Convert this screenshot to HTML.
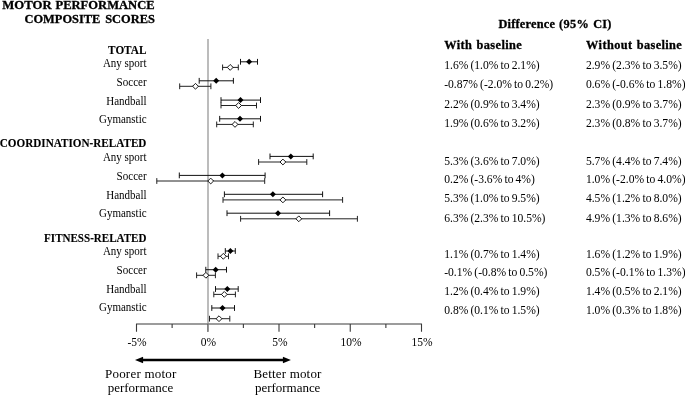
<!DOCTYPE html>
<html><head><meta charset="utf-8"><title>Motor performance composite scores</title>
<style>
html,body{margin:0;padding:0;background:#fff;}
body{width:685px;height:395px;overflow:hidden;font-family:"Liberation Serif",serif;}
svg{display:block;will-change:transform;}
svg text{font-family:"Liberation Serif",serif;fill:#000;}
</style></head><body>
<svg width="685" height="395" viewBox="0 0 685 395">
<rect width="685" height="395" fill="#fff"/>
<g id="axis">
<path d="M208 39V323.6" stroke="#a6a6a6" stroke-width="1.5" fill="none"/>
<path d="M136 324H422M136.50 324V331.7M172.12 324V327.9M207.75 324V331.7M243.38 324V327.9M279.00 324V331.7M314.62 324V327.9M350.25 324V331.7M385.88 324V327.9M421.50 324V331.7" stroke="#3a3a3a" stroke-width="1.1" fill="none"/>
<path d="M208 324.6V331.7" stroke="#8c8c8c" stroke-width="1.6" fill="none"/>
<path d="M142 360H284" stroke="#000" stroke-width="2.35" fill="none"/>
<path d="M135.0 360L143.1 356.7V363.3Z M290.9 360L282.9 356.7V363.3Z" fill="#000"/>
</g>
<g id="bars">
<path d="M240.5 61.8H257.5M240.5 58.9V64.7M257.5 58.9V64.7" stroke="#111" stroke-width="1" fill="none"/><path d="M246.1 61.8L249.1 58.8L252.1 61.8L249.1 64.8Z" fill="#000" stroke="#000" stroke-width="0"/>
<path d="M199.2 80.8H233.4M199.2 77.9V83.7M233.4 77.9V83.7" stroke="#111" stroke-width="1" fill="none"/><path d="M213.2 80.8L216.2 77.8L219.2 80.8L216.2 83.8Z" fill="#000" stroke="#000" stroke-width="0"/>
<path d="M221.0 100.1H260.5M221.0 97.2V103.0M260.5 97.2V103.0" stroke="#111" stroke-width="1" fill="none"/><path d="M237.5 100.1L240.5 97.1L243.5 100.1L240.5 103.1Z" fill="#000" stroke="#000" stroke-width="0"/>
<path d="M219.7 118.8H260.5M219.7 115.9V121.7M260.5 115.9V121.7" stroke="#111" stroke-width="1" fill="none"/><path d="M237.0 118.8L240.0 115.8L243.0 118.8L240.0 121.8Z" fill="#000" stroke="#000" stroke-width="0"/>
<path d="M270.0 156.4H313.2M270.0 153.5V159.3M313.2 153.5V159.3" stroke="#111" stroke-width="1" fill="none"/><path d="M287.8 156.4L290.8 153.4L293.8 156.4L290.8 159.4Z" fill="#000" stroke="#000" stroke-width="0"/>
<path d="M179.3 175.4H265.1M179.3 172.5V178.3M265.1 172.5V178.3" stroke="#111" stroke-width="1" fill="none"/><path d="M219.4 175.4L222.4 172.4L225.4 175.4L222.4 178.4Z" fill="#000" stroke="#000" stroke-width="0"/>
<path d="M224.4 194.3H322.6M224.4 191.4V197.2M322.6 191.4V197.2" stroke="#111" stroke-width="1" fill="none"/><path d="M269.9 194.3L272.9 191.3L275.9 194.3L272.9 197.3Z" fill="#000" stroke="#000" stroke-width="0"/>
<path d="M227.0 213.2H329.6M227.0 210.3V216.1M329.6 210.3V216.1" stroke="#111" stroke-width="1" fill="none"/><path d="M275.0 213.2L278.0 210.2L281.0 213.2L278.0 216.2Z" fill="#000" stroke="#000" stroke-width="0"/>
<path d="M225.3 251.0H235.3M225.3 248.1V253.9M235.3 248.1V253.9" stroke="#111" stroke-width="1" fill="none"/><path d="M227.4 251.0L230.4 248.0L233.4 251.0L230.4 254.0Z" fill="#000" stroke="#000" stroke-width="0"/>
<path d="M205.8 269.7H226.5M205.8 266.8V272.6M226.5 266.8V272.6" stroke="#111" stroke-width="1" fill="none"/><path d="M212.7 269.7L215.7 266.7L218.7 269.7L215.7 272.7Z" fill="#000" stroke="#000" stroke-width="0"/>
<path d="M215.5 289.0H238.2M215.5 286.1V291.9M238.2 286.1V291.9" stroke="#111" stroke-width="1" fill="none"/><path d="M224.3 289.0L227.3 286.0L230.3 289.0L227.3 292.0Z" fill="#000" stroke="#000" stroke-width="0"/>
<path d="M211.8 308.0H234.5M211.8 305.1V310.9M234.5 305.1V310.9" stroke="#111" stroke-width="1" fill="none"/><path d="M219.5 308.0L222.5 305.0L225.5 308.0L222.5 311.0Z" fill="#000" stroke="#000" stroke-width="0"/>
<path d="M222.6 67.4H238.3M222.6 64.5V70.3M238.3 64.5V70.3" stroke="#222" stroke-width="1" fill="none"/><path d="M227.3 67.4L230.2 64.5L233.1 67.4L230.2 70.3Z" fill="#fff" stroke="#000" stroke-width="0.9"/>
<path d="M179.7 86.3H210.9M179.7 83.4V89.2M210.9 83.4V89.2" stroke="#222" stroke-width="1" fill="none"/><path d="M192.6 86.3L195.5 83.4L198.4 86.3L195.5 89.2Z" fill="#fff" stroke="#000" stroke-width="0.9"/>
<path d="M221.0 105.5H256.5M221.0 102.6V108.4M256.5 102.6V108.4" stroke="#222" stroke-width="1" fill="none"/><path d="M235.7 105.5L238.6 102.6L241.5 105.5L238.6 108.4Z" fill="#fff" stroke="#000" stroke-width="0.9"/>
<path d="M216.7 124.4H253.3M216.7 121.5V127.3M253.3 121.5V127.3" stroke="#222" stroke-width="1" fill="none"/><path d="M232.1 124.4L235.0 121.5L237.9 124.4L235.0 127.3Z" fill="#fff" stroke="#000" stroke-width="0.9"/>
<path d="M258.6 162.0H306.8M258.6 159.1V164.9M306.8 159.1V164.9" stroke="#222" stroke-width="1" fill="none"/><path d="M280.0 162.0L282.9 159.1L285.8 162.0L282.9 164.9Z" fill="#fff" stroke="#000" stroke-width="0.9"/>
<path d="M156.8 181.0H264.7M156.8 178.1V183.9M264.7 178.1V183.9" stroke="#222" stroke-width="1" fill="none"/><path d="M207.8 181.0L210.7 178.1L213.6 181.0L210.7 183.9Z" fill="#fff" stroke="#000" stroke-width="0.9"/>
<path d="M223.0 199.9H342.6M223.0 197.0V202.8M342.6 197.0V202.8" stroke="#222" stroke-width="1" fill="none"/><path d="M280.0 199.9L282.9 197.0L285.8 199.9L282.9 202.8Z" fill="#fff" stroke="#000" stroke-width="0.9"/>
<path d="M240.6 218.8H357.4M240.6 215.9V221.7M357.4 215.9V221.7" stroke="#222" stroke-width="1" fill="none"/><path d="M295.9 218.8L298.8 215.9L301.7 218.8L298.8 221.7Z" fill="#fff" stroke="#000" stroke-width="0.9"/>
<path d="M218.0 256.3H228.5M218.0 253.4V259.2M228.5 253.4V259.2" stroke="#222" stroke-width="1" fill="none"/><path d="M220.4 256.3L223.3 253.4L226.2 256.3L223.3 259.2Z" fill="#fff" stroke="#000" stroke-width="0.9"/>
<path d="M196.6 275.3H215.4M196.6 272.4V278.2M215.4 272.4V278.2" stroke="#222" stroke-width="1" fill="none"/><path d="M203.0 275.3L205.9 272.4L208.8 275.3L205.9 278.2Z" fill="#fff" stroke="#000" stroke-width="0.9"/>
<path d="M213.8 294.4H235.4M213.8 291.5V297.3M235.4 291.5V297.3" stroke="#222" stroke-width="1" fill="none"/><path d="M221.4 294.4L224.3 291.5L227.2 294.4L224.3 297.3Z" fill="#fff" stroke="#000" stroke-width="0.9"/>
<path d="M209.5 318.7H229.8M209.5 315.8V321.6M229.8 315.8V321.6" stroke="#222" stroke-width="1" fill="none"/><path d="M216.1 318.7L219.0 315.8L221.9 318.7L219.0 321.6Z" fill="#fff" stroke="#000" stroke-width="0.9"/>
</g>
<g id="text">
<text x="2.3" y="8.5" text-anchor="start" font-weight="bold" stroke="#000" stroke-width="0.3" font-size="12.3" lengthAdjust="spacingAndGlyphs" textLength="49.4">MOTOR</text>
<text x="55.5" y="8.5" text-anchor="start" font-weight="bold" stroke="#000" stroke-width="0.3" font-size="12.3" lengthAdjust="spacingAndGlyphs" textLength="99.1">PERFORMANCE</text>
<text x="24.5" y="23.2" text-anchor="start" font-weight="bold" stroke="#000" stroke-width="0.3" font-size="12.3" lengthAdjust="spacingAndGlyphs" textLength="75.9">COMPOSITE</text>
<text x="105.2" y="23.2" text-anchor="start" font-weight="bold" stroke="#000" stroke-width="0.3" font-size="12.3" lengthAdjust="spacingAndGlyphs" textLength="49.7">SCORES</text>
<text x="498.4" y="27.9" text-anchor="start" font-weight="bold" stroke="#000" stroke-width="0.3" font-size="12.3" textLength="56.6">Difference</text>
<text x="559.0" y="27.9" text-anchor="start" font-weight="bold" stroke="#000" stroke-width="0.3" font-size="12.3" textLength="29.9">(95%</text>
<text x="593.2" y="27.9" text-anchor="start" font-weight="bold" stroke="#000" stroke-width="0.3" font-size="12.3" textLength="18.2">CI)</text>
<text x="444.2" y="49.1" text-anchor="start" font-weight="bold" stroke="#000" stroke-width="0.3" font-size="12.3" textLength="27.7">With</text>
<text x="476.5" y="49.1" text-anchor="start" font-weight="bold" stroke="#000" stroke-width="0.3" font-size="12.3" textLength="45.3">baseline</text>
<text x="586.0" y="49.1" text-anchor="start" font-weight="bold" stroke="#000" stroke-width="0.3" font-size="12.3" textLength="46.2">Without</text>
<text x="636.7" y="49.1" text-anchor="start" font-weight="bold" stroke="#000" stroke-width="0.3" font-size="12.3" textLength="45.1">baseline</text>
<text x="108.1" y="53.8" text-anchor="start" font-weight="bold" stroke="#000" stroke-width="0.12" font-size="11.7" lengthAdjust="spacingAndGlyphs" textLength="38.3">TOTAL</text>
<text x="102.9" y="66.6" text-anchor="start" font-size="11.6" lengthAdjust="spacingAndGlyphs" textLength="43.7">Any sport</text>
<text x="116.6" y="85.6" text-anchor="start" font-size="11.6" lengthAdjust="spacingAndGlyphs" textLength="30.0">Soccer</text>
<text x="106.3" y="104.5" text-anchor="start" font-size="11.6" lengthAdjust="spacingAndGlyphs" textLength="40.3">Handball</text>
<text x="99.0" y="123.2" text-anchor="start" font-size="11.6" lengthAdjust="spacingAndGlyphs" textLength="47.6">Gymanstic</text>
<text x="-0.2" y="147.4" text-anchor="start" font-weight="bold" stroke="#000" stroke-width="0.12" font-size="11.7" lengthAdjust="spacingAndGlyphs" textLength="146.6">COORDINATION-RELATED</text>
<text x="102.9" y="160.6" text-anchor="start" font-size="11.6" lengthAdjust="spacingAndGlyphs" textLength="43.7">Any sport</text>
<text x="116.6" y="179.6" text-anchor="start" font-size="11.6" lengthAdjust="spacingAndGlyphs" textLength="30.0">Soccer</text>
<text x="106.3" y="198.5" text-anchor="start" font-size="11.6" lengthAdjust="spacingAndGlyphs" textLength="40.3">Handball</text>
<text x="99.0" y="217.2" text-anchor="start" font-size="11.6" lengthAdjust="spacingAndGlyphs" textLength="47.6">Gymanstic</text>
<text x="44.1" y="241.5" text-anchor="start" font-weight="bold" stroke="#000" stroke-width="0.12" font-size="11.7" lengthAdjust="spacingAndGlyphs" textLength="102.3">FITNESS-RELATED</text>
<text x="102.9" y="254.6" text-anchor="start" font-size="11.6" lengthAdjust="spacingAndGlyphs" textLength="43.7">Any sport</text>
<text x="116.6" y="273.7" text-anchor="start" font-size="11.6" lengthAdjust="spacingAndGlyphs" textLength="30.0">Soccer</text>
<text x="106.3" y="292.5" text-anchor="start" font-size="11.6" lengthAdjust="spacingAndGlyphs" textLength="40.3">Handball</text>
<text x="99.0" y="311.2" text-anchor="start" font-size="11.6" lengthAdjust="spacingAndGlyphs" textLength="47.6">Gymanstic</text>
<text x="444.2" y="68.6" text-anchor="start" font-size="11.6" word-spacing="-0.8">1.6% (1.0% to 2.1%)</text>
<text x="444.2" y="88.2" text-anchor="start" font-size="11.6" word-spacing="-0.8">-0.87% (-2.0% to 0.2%)</text>
<text x="444.2" y="108.3" text-anchor="start" font-size="11.6" word-spacing="-0.8">2.2% (0.9% to 3.4%)</text>
<text x="444.2" y="127.4" text-anchor="start" font-size="11.6" word-spacing="-0.8">1.9% (0.6% to 3.2%)</text>
<text x="444.2" y="165.2" text-anchor="start" font-size="11.6" word-spacing="-0.8">5.3% (3.6% to 7.0%)</text>
<text x="444.2" y="182.8" text-anchor="start" font-size="11.6" word-spacing="-0.8">0.2% (-3.6% to 4%)</text>
<text x="444.2" y="201.5" text-anchor="start" font-size="11.6" word-spacing="-0.8">5.3% (1.0% to 9.5%)</text>
<text x="444.2" y="222.2" text-anchor="start" font-size="11.6" word-spacing="-0.8">6.3% (2.3% to 10.5%)</text>
<text x="444.2" y="258.0" text-anchor="start" font-size="11.6" word-spacing="-0.8">1.1% (0.7% to 1.4%)</text>
<text x="444.2" y="275.9" text-anchor="start" font-size="11.6" word-spacing="-0.8">-0.1% (-0.8% to 0.5%)</text>
<text x="444.2" y="294.7" text-anchor="start" font-size="11.6" word-spacing="-0.8">1.2% (0.4% to 1.9%)</text>
<text x="444.2" y="314.2" text-anchor="start" font-size="11.6" word-spacing="-0.8">0.8% (0.1% to 1.5%)</text>
<text x="585.9" y="68.6" text-anchor="start" font-size="11.6" word-spacing="-0.7">2.9% (2.3% to 3.5%)</text>
<text x="585.9" y="88.2" text-anchor="start" font-size="11.6" word-spacing="-0.7">0.6% (-0.6% to 1.8%)</text>
<text x="585.9" y="108.3" text-anchor="start" font-size="11.6" word-spacing="-0.7">2.3% (0.9% to 3.7%)</text>
<text x="585.9" y="127.4" text-anchor="start" font-size="11.6" word-spacing="-0.7">2.3% (0.8% to 3.7%)</text>
<text x="585.9" y="165.2" text-anchor="start" font-size="11.6" word-spacing="-0.7">5.7% (4.4% to 7.4%)</text>
<text x="585.9" y="182.8" text-anchor="start" font-size="11.6" word-spacing="-0.7">1.0% (-2.0% to 4.0%)</text>
<text x="585.9" y="201.5" text-anchor="start" font-size="11.6" word-spacing="-0.7">4.5% (1.2% to 8.0%)</text>
<text x="585.9" y="222.2" text-anchor="start" font-size="11.6" word-spacing="-0.7">4.9% (1.3% to 8.6%)</text>
<text x="585.9" y="258.0" text-anchor="start" font-size="11.6" word-spacing="-0.7">1.6% (1.2% to 1.9%)</text>
<text x="585.9" y="275.9" text-anchor="start" font-size="11.6" word-spacing="-0.7">0.5% (-0.1% to 1.3%)</text>
<text x="585.9" y="294.7" text-anchor="start" font-size="11.6" word-spacing="-0.7">1.4% (0.5% to 2.1%)</text>
<text x="585.9" y="314.2" text-anchor="start" font-size="11.6" word-spacing="-0.7">1.0% (0.3% to 1.8%)</text>
<text x="137.1" y="346" text-anchor="middle" font-size="11.5">-5%</text>
<text x="208.5" y="346" text-anchor="middle" font-size="11.5">0%</text>
<text x="279.8" y="346" text-anchor="middle" font-size="11.5">5%</text>
<text x="351" y="346" text-anchor="middle" font-size="11.5">10%</text>
<text x="422" y="346" text-anchor="middle" font-size="11.5">15%</text>
<text x="105.0" y="378.3" text-anchor="start" font-size="13" textLength="71.3">Poorer motor</text>
<text x="107.8" y="391.8" text-anchor="start" font-size="13" textLength="65.4">performance</text>
<text x="253.4" y="378.3" text-anchor="start" font-size="13" textLength="68.0">Better motor</text>
<text x="255.0" y="391.8" text-anchor="start" font-size="13" textLength="65.4">performance</text>
</g>
</svg>
</body></html>
